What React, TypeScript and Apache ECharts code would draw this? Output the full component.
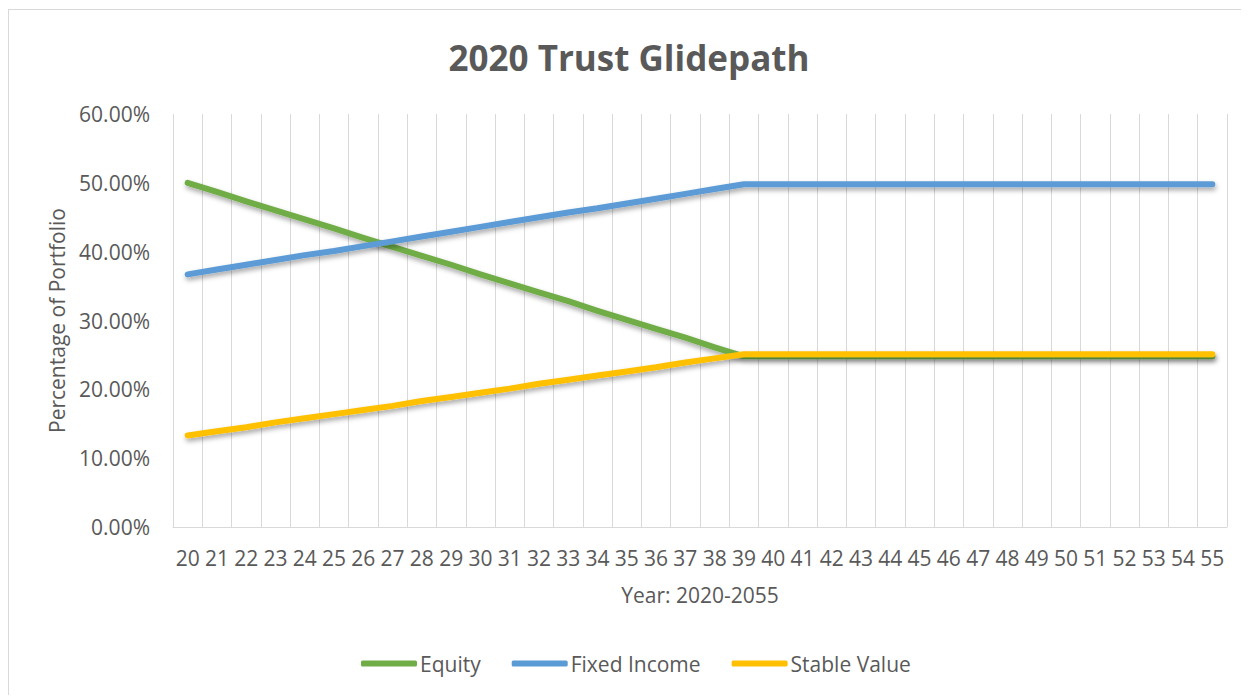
import React, { useEffect, useRef } from "react";
import * as echarts from "echarts";

const years = [
  "20", "21", "22", "23", "24", "25", "26", "27", "28", "29", "30", "31",
  "32", "33", "34", "35", "36", "37", "38", "39", "40", "41", "42", "43",
  "44", "45", "46", "47", "48", "49", "50", "51", "52", "53", "54", "55",
];

const equity = [
  50.0, 48.7, 47.3, 46.0, 44.7, 43.4, 42.0, 40.7, 39.4, 38.1, 36.7, 35.4,
  34.1, 32.8, 31.4, 30.1, 28.8, 27.5, 26.1, 24.8, 24.8, 24.8, 24.8, 24.8,
  24.8, 24.8, 24.8, 24.8, 24.8, 24.8, 24.8, 24.8, 24.8, 24.8, 24.8, 24.8,
];

const fixedIncome = [
  36.7, 37.4, 38.1, 38.8, 39.5, 40.1, 40.8, 41.5, 42.2, 42.9, 43.6, 44.3,
  45.0, 45.7, 46.3, 47.0, 47.7, 48.4, 49.1, 49.8, 49.8, 49.8, 49.8, 49.8,
  49.8, 49.8, 49.8, 49.8, 49.8, 49.8, 49.8, 49.8, 49.8, 49.8, 49.8, 49.8,
];

const stableValue = [
  13.3, 13.9, 14.5, 15.2, 15.8, 16.4, 17.0, 17.6, 18.3, 18.9, 19.5, 20.1,
  20.8, 21.4, 22.0, 22.6, 23.2, 23.9, 24.5, 25.1, 25.1, 25.1, 25.1, 25.1,
  25.1, 25.1, 25.1, 25.1, 25.1, 25.1, 25.1, 25.1, 25.1, 25.1, 25.1, 25.1,
];

const seriesNames = ["Equity", "Fixed Income", "Stable Value"];
const seriesColors = ["#70AD47", "#5B9BD5", "#FFC000"];

const FONT = "'Open Sans', 'Noto Sans', sans-serif";
const TEXT = "#595959";

export default function App() {
  const ref = useRef<HTMLDivElement>(null);

  useEffect(() => {
    if (!ref.current) return;
    const chart = echarts.init(ref.current, undefined, { renderer: "svg" });
    const data = [equity, fixedIncome, stableValue];
    chart.setOption({
      animation: false,
      backgroundColor: "#ffffff",
      textStyle: { fontFamily: FONT },
      title: {
        text: "2020 Trust Glidepath",
        left: "center",
        top: 21,
        textStyle: {
          fontFamily: FONT,
          fontSize: 35,
          fontWeight: "bold",
          color: TEXT,
          lineHeight: 42,
        },
      },
      legend: {
        left: 347,
        top: 638,
        itemWidth: 56,
        itemHeight: 6,
        itemGap: 31,
        icon: "roundRect",
        data: seriesNames,
        textStyle: { fontFamily: FONT, fontSize: 21, color: TEXT, padding: [0, 0, 0, -2] },
      },
      grid: { left: 164, right: 22, top: 104, bottom: 169, containLabel: false },
      xAxis: {
        type: "category",
        data: years,
        boundaryGap: true,
        name: "Year: 2020-2055",
        nameLocation: "middle",
        nameGap: 57,
        nameTextStyle: { fontFamily: FONT, fontSize: 21, color: TEXT, lineHeight: 22 },
        axisLine: { show: true, lineStyle: { color: "#d9d9d9", width: 1 } },
        axisTick: { show: false },
        axisLabel: {
          interval: 0,
          margin: 20,
          fontFamily: FONT,
          fontSize: 21,
          color: TEXT,
        },
        splitLine: { show: true, interval: 0, lineStyle: { color: "#d9d9d9", width: 1 } },
      },
      yAxis: {
        type: "value",
        min: 0,
        max: 60,
        interval: 10,
        name: "Percentage of Portfolio",
        nameLocation: "middle",
        nameGap: 104,
        nameTextStyle: { fontFamily: FONT, fontSize: 21, color: TEXT, lineHeight: 22 },
        axisLine: { show: false },
        axisTick: { show: false },
        splitLine: { show: false },
        axisLabel: {
          margin: 23,
          fontFamily: FONT,
          fontSize: 21,
          color: TEXT,
          formatter: (v: number) => v.toFixed(2) + "%",
        },
      },
      series: seriesNames.map((name, i) => ({
        name,
        type: "line",
        data: data[i],
        showSymbol: false,
        symbol: "none",
        color: seriesColors[i],
        lineStyle: {
          color: seriesColors[i],
          width: 6,
          cap: "round",
          join: "round",
          shadowColor: "rgba(0,0,0,0.35)",
          shadowBlur: 5,
          shadowOffsetX: 1,
          shadowOffsetY: 3,
        },
      })),
    });
    return () => chart.dispose();
  }, []);

  return (
    <div
      style={{
        position: "relative",
        top: 1,
        width: 1241,
        height: 687,
        borderTop: "1px solid #d9d9d9",
        borderLeft: "1px solid #d9d9d9",
        boxSizing: "border-box",
        overflow: "hidden",
      }}
    >
      <div ref={ref} style={{ width: 1240, height: 686 }} />
    </div>
  );
}
